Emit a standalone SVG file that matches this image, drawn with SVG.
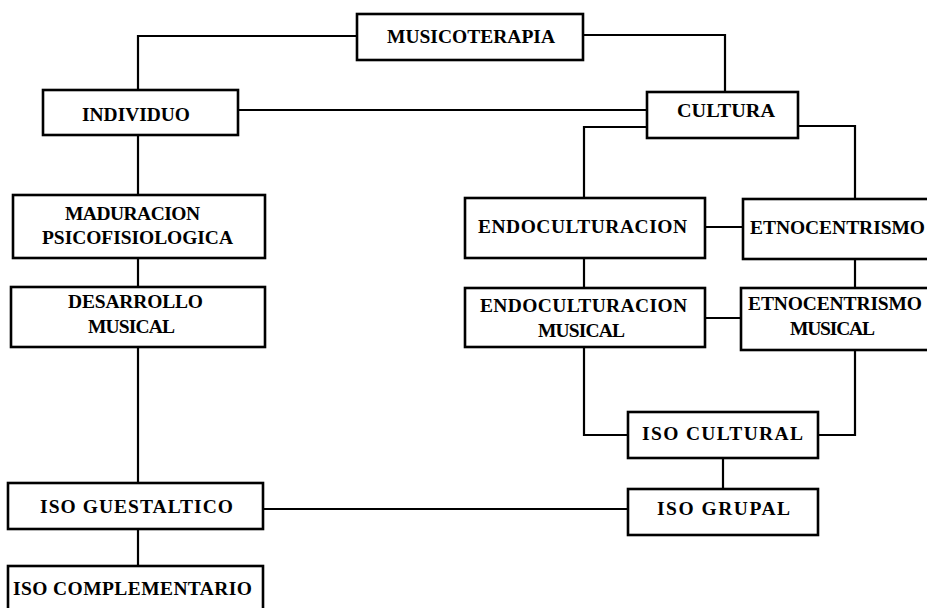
<svg xmlns="http://www.w3.org/2000/svg" width="927" height="608" viewBox="0 0 927 608">
<style>
.box{fill:#fff;stroke:#000;stroke-width:2.6}
.c{fill:none;stroke:#000;stroke-width:2.2}
text{font-family:"Liberation Serif","Times New Roman",serif;font-weight:bold;font-size:19.5px;fill:#000}
</style>
<rect width="927" height="608" fill="#fff"/>
<g id="connectors">
<path class="c" d="M357 36H138V90"/>
<path class="c" d="M583 35H725V92"/>
<path class="c" d="M238 110H647"/>
<path class="c" d="M647 127H584V198"/>
<path class="c" d="M798 126H855V199"/>
<path class="c" d="M138 135V195"/>
<path class="c" d="M138 258V287"/>
<path class="c" d="M138 347V483"/>
<path class="c" d="M138 529V566"/>
<path class="c" d="M705 227H743"/>
<path class="c" d="M584 258V288"/>
<path class="c" d="M855 259V288"/>
<path class="c" d="M705 318H741"/>
<path class="c" d="M584 347V435H628"/>
<path class="c" d="M855 350V435H818"/>
<path class="c" d="M723 458V489"/>
<path class="c" d="M263 509H628"/>
</g>
<g id="musicoterapia"><rect class="box" x="357" y="14" width="226" height="46"/><text x="387" y="43" textLength="168" lengthAdjust="spacingAndGlyphs">MUSICOTERAPIA</text></g>
<g id="individuo"><rect class="box" x="43" y="90" width="195" height="45"/><text x="82" y="121" textLength="108" lengthAdjust="spacingAndGlyphs">INDIVIDUO</text></g>
<g id="cultura"><rect class="box" x="647" y="92" width="151" height="46"/><text x="677" y="117" textLength="98" lengthAdjust="spacingAndGlyphs">CULTURA</text></g>
<g id="maduracion"><rect class="box" x="13" y="195" width="252" height="63"/><text x="65" y="220" textLength="135">MADURACION</text><text x="42" y="244" textLength="191">PSICOFISIOLOGICA</text></g>
<g id="desarrollo"><rect class="box" x="11" y="287" width="254" height="60"/><text x="68" y="308" textLength="135">DESARROLLO</text><text x="88" y="333" textLength="87">MUSICAL</text></g>
<g id="iso-guestaltico"><rect class="box" x="8" y="483" width="255" height="46"/><text x="40" y="513" textLength="193">ISO GUESTALTICO</text></g>
<g id="iso-complementario"><rect class="box" x="8" y="566" width="255" height="52"/><text x="13" y="595" textLength="239">ISO COMPLEMENTARIO</text></g>
<g id="endoculturacion"><rect class="box" x="465" y="198" width="240" height="60"/><text x="478" y="233" textLength="209">ENDOCULTURACION</text></g>
<g id="etnocentrismo"><rect class="box" x="743" y="199" width="200" height="60"/><text x="750" y="234" textLength="175">ETNOCENTRISMO</text></g>
<g id="endoculturacion-musical"><rect class="box" x="465" y="288" width="240" height="59"/><text x="480" y="312" textLength="207">ENDOCULTURACION</text><text x="538" y="337" textLength="87">MUSICAL</text></g>
<g id="etnocentrismo-musical"><rect class="box" x="741" y="288" width="200" height="62"/><text x="748" y="310" textLength="174">ETNOCENTRISMO</text><text x="790" y="335" textLength="85">MUSICAL</text></g>
<g id="iso-cultural"><rect class="box" x="628" y="412" width="190" height="46"/><text x="642" y="440" textLength="161">ISO CULTURAL</text></g>
<g id="iso-grupal"><rect class="box" x="628" y="489" width="190" height="46"/><text x="657" y="515" textLength="133">ISO GRUPAL</text></g>
</svg>
